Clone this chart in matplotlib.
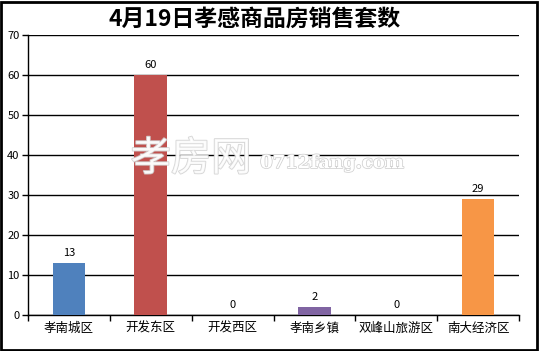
import matplotlib
matplotlib.use("Agg")
import matplotlib.pyplot as plt
import matplotlib.patheffects as pe
from matplotlib.patches import Rectangle

plt.rcParams['font.family'] = ['Noto Sans CJK SC', 'DejaVu Sans']

categories = ['孝南城区', '开发东区', '开发西区', '孝南乡镇', '双峰山旅游区', '南大经济区']
values = [13, 60, 0, 2, 0, 29]
colors = ['#4F81BD', '#C0504D', '#9BBB59', '#8064A2', '#4BACC6', '#F79646']
yticks = [0, 10, 20, 30, 40, 50, 60, 70]
title = '4月19日孝感商品房销售套数'

fig = plt.figure(figsize=(5.39, 3.51), dpi=100)
ax = fig.add_axes([28/539, 1-315/351, 491/539, 280/351])

x = list(range(len(categories)))
ax.bar(x, values, width=0.4, color=colors, zorder=3)
for xi, v in zip(x, values):
    ax.text(xi, v + 1.2, str(v), ha='center', va='bottom', fontsize=8, zorder=4)

ax.set_xlim(-0.5, len(categories) - 0.5)
ax.set_ylim(0, 70)
ax.set_yticks(yticks)
ax.set_yticklabels([str(t) for t in yticks], fontsize=8)
ax.yaxis.grid(True, color='black', linewidth=1)
ax.set_axisbelow(True)
ax.set_xticks(x)
ax.set_xticklabels(categories, fontsize=9)
ax.set_xticks([i - 0.5 for i in range(len(categories) + 1)], minor=True)
ax.tick_params(axis='x', which='major', length=0, pad=5)
ax.tick_params(axis='x', which='minor', length=4, width=1, color='black', direction='out')
ax.tick_params(axis='y', length=4, width=1, pad=2)
for s in ['top', 'right']:
    ax.spines[s].set_visible(False)
ax.spines['left'].set_linewidth(1)
ax.spines['bottom'].set_linewidth(1)

fig.text(255/539, 1-19/351, title, ha='center', va='center', fontsize=16.5, fontweight='bold')

wm1 = fig.text(191/539, 1-159/351, '孝房网', ha='center', va='center', fontsize=29,
               color='white', alpha=0.85, zorder=10)
wm1.set_path_effects([pe.Stroke(linewidth=1.3, foreground='#d0d0d0'), pe.Normal()])
wm2 = fig.text(332/539, 1-163/351, '0712fang.com', ha='center', va='center', fontsize=13,
               family='DejaVu Serif', fontweight='bold', color='white', zorder=10)
wm2.set_path_effects([pe.Stroke(linewidth=1.1, foreground='#d0d0d0'), pe.Normal()])

fig.patches.append(Rectangle((0.5/539, 1.5/351), 536.5/539, 347.5/351, transform=fig.transFigure,
                             fill=False, edgecolor='black', linewidth=2))

fig.savefig('out.png', dpi=100)
